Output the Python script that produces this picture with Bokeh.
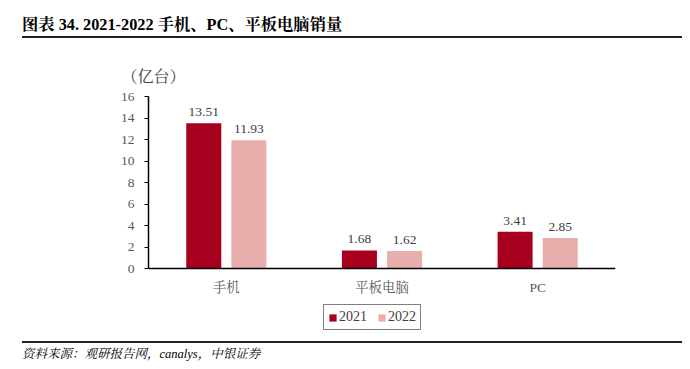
from bokeh.plotting import figure
from bokeh.models import (FactorRange, Range1d, ColumnDataSource, Title, Div,
                          Legend, LegendItem, FixedTicker, LabelSet)
from bokeh.layouts import column
from bokeh.transform import dodge
from bokeh.core.properties import value
from bokeh.embed import file_html
from bokeh.resources import INLINE

categories = ["手机", "平板电脑", "PC"]
sales_2021 = [13.51, 1.68, 3.41]
sales_2022 = [11.93, 1.62, 2.85]
y_ticks = [0, 2, 4, 6, 8, 10, 12, 14, 16]
series_names = ["2021", "2022"]

title_text = "图表 34. 2021-2022 手机、PC、平板电脑销量"
unit_text = "（亿台）"
source_text = "资料来源：观研报告网，canalys，中银证券"

C2021 = "#A6001E"
C2022 = "#E8AEAB"
SERIF = "'Times New Roman', 'Liberation Serif', 'Noto Serif CJK SC', 'Noto Sans CJK SC', serif"

src = ColumnDataSource(dict(
    cat=categories,
    y2021=sales_2021,
    y2022=sales_2022,
    t2021=[f"{v:.2f}" for v in sales_2021],
    t2022=[f"{v:.2f}" for v in sales_2022],
))

# plot frame extends below the value axis to hold the category labels and legend
Y_MAX = 16
Y_MIN_VIEW = -6.23

p = figure(width=690, height=301, output_backend="svg", toolbar_location=None,
           x_range=FactorRange(factors=categories, range_padding=0),
           y_range=Range1d(Y_MIN_VIEW, Y_MAX),
           min_border_left=148, min_border_right=75, min_border_top=57, min_border_bottom=5,
           frame_width=467, frame_height=239, margin=0)
p.outline_line_color = None
p.grid.grid_line_color = None
p.background_fill_color = "white"
p.border_fill_color = "white"

r1 = p.vbar(x=dodge("cat", -0.145, range=p.x_range), top="y2021", bottom=0, width=0.225,
            source=src, fill_color=C2021, line_color=None)
r2 = p.vbar(x=dodge("cat", 0.145, range=p.x_range), top="y2022", bottom=0, width=0.225,
            source=src, fill_color=C2022, line_color=None)

for col, off in (("2021", -0.145), ("2022", 0.145)):
    ls = LabelSet(x=dodge("cat", off, range=p.x_range), y="y" + col, text="t" + col,
                  source=src, text_align="center", text_baseline="bottom", y_offset=7,
                  text_font=value(SERIF), text_font_size="13.5px", text_color="#404040")
    p.add_layout(ls)

# axes
p.yaxis.ticker = FixedTicker(ticks=y_ticks)
p.yaxis.bounds = (0, Y_MAX)
p.yaxis.axis_line_color = "#000000"
p.yaxis.axis_line_width = 1.5
p.yaxis.major_tick_line_color = "#000000"
p.yaxis.major_tick_in = 0
p.yaxis.major_tick_out = 4
p.yaxis.minor_tick_line_color = None
p.yaxis.major_label_text_font = SERIF
p.yaxis.major_label_text_font_size = "13.5px"
p.yaxis.major_label_text_color = "#595959"
p.yaxis.major_label_standoff = 10

p.xaxis.fixed_location = 0
p.xaxis.axis_line_color = "#000000"
p.xaxis.axis_line_width = 1.5
p.xaxis.major_tick_line_color = None
p.xaxis.minor_tick_line_color = None
p.xaxis.major_label_text_font = SERIF
p.xaxis.major_label_text_font_size = "13.5px"
p.xaxis.major_label_text_color = "#595959"
p.xaxis.major_label_standoff = 5

# unit label above the y axis
p.add_layout(Title(text=unit_text, align="left", offset=-27, standoff=24,
                   text_font=SERIF, text_font_size="16px", text_font_style="normal",
                   text_color="#404040"), "above")

# legend below the category labels
legend = Legend(items=[LegendItem(label=series_names[0], renderers=[r1]),
                       LegendItem(label=series_names[1], renderers=[r2])],
                location=(175, 5), orientation="horizontal",
                border_line_color="#000000", border_line_width=1.8,
                label_text_font=SERIF, label_text_font_size="14px", label_text_color="#404040",
                glyph_width=9, glyph_height=9, label_standoff=2, spacing=10,
                padding=4, margin=0, background_fill_alpha=1)
p.add_layout(legend, "center")

top_div = Div(width=690, height=39, margin=0, text=(
    '<div style="position:relative;width:690px;height:39px;">'
    f'<div style="position:absolute;left:22px;top:15px;font-family:{SERIF};'
    'font-size:16.3px;font-weight:bold;color:#000;line-height:19px;white-space:nowrap;">'
    f'{title_text}</div>'
    '<div style="position:absolute;left:22px;top:36px;width:660px;height:2px;background:#222;"></div>'
    '</div>'))

bot_div = Div(width=690, height=29, margin=0, text=(
    '<div style="position:relative;width:690px;height:29px;">'
    '<div style="position:absolute;left:22px;top:1px;width:660px;height:2px;background:#222;"></div>'
    f'<div style="position:absolute;left:22px;top:6px;font-family:{SERIF};'
    'font-size:12.5px;font-style:italic;color:#000;line-height:16px;white-space:nowrap;">'
    f'{source_text}</div>'
    '</div>'))

layout = column(top_div, p, bot_div, spacing=0)

open("out.html", "w").write(file_html(layout, INLINE))
